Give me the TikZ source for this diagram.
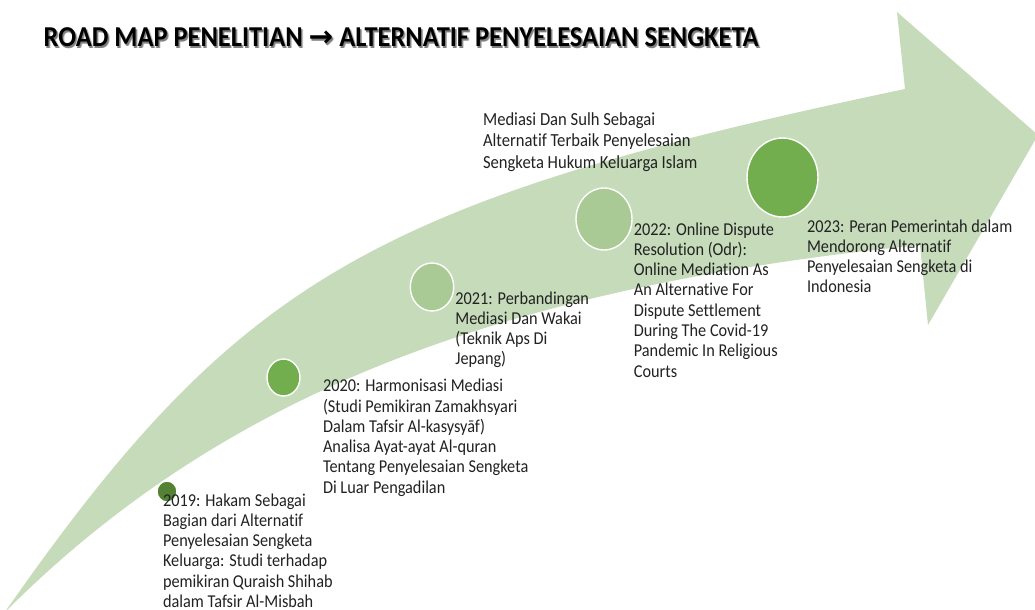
\documentclass[tikz,border=0pt]{standalone}
\usepackage{fontspec}
\setmainfont{Carlito}[FakeStretch=0.9, Ligatures=NoCommon]
\newfontfamily\arrowfont{DejaVu Sans}
\usepackage{graphicx}
\usetikzlibrary{shapes.geometric}
\definecolor{arrowfill}{HTML}{C5DBBA}
\definecolor{lightdot}{HTML}{A9CA95}
\definecolor{middot}{HTML}{72AE4D}
\definecolor{darkdot}{HTML}{548235}
\definecolor{txt}{HTML}{222222}
\newcommand\roadtitle{ROAD MAP PENELITIAN {\arrowfont\bfseries →} ALTERNATIF PENYELESAIAN SENGKETA}
\tikzset{
  lbl/.style={anchor=base west, inner sep=0pt, font=\fontsize{10.3}{11.55}\selectfont, text=txt},
  dot/.style={ellipse, draw=white, line width=0.8pt, inner sep=0pt},
  ttl/.style={anchor=base west, inner sep=0pt, font=\fontsize{16.4}{19}\selectfont\bfseries},
}
\begin{document}
\begin{tikzpicture}[x=0.02cm,y=-0.02cm]
\fill[white] (0,0) rectangle (1035,609);
\clip (0,0) rectangle (1035,609);
% big curved arrow
\fill[arrowfill] (5,612) .. controls (220,397) and (494,288) .. (920,245)
  -- (928,325) -- (1038,135) -- (897,12) -- (905,89)
  .. controls (372,201) and (237.5,279) .. (5,612) -- cycle;
% title with soft shadow
\node[ttl, text=black!25] (tshadow2) at (45.3,48.9) {\resizebox{14.3cm}{\height}{\roadtitle}};
\node[ttl, text=black!50] (tshadow) at (44.5,48) {\resizebox{14.3cm}{\height}{\roadtitle}};
\node[ttl, text=black] (title) at (43.3,46.7) {\resizebox{14.3cm}{\height}{\roadtitle}};
% milestones
\node[dot, fill=darkdot, minimum width=0.40cm, minimum height=0.42cm] (c2019) at (167,491.5) {};
\node[dot, fill=middot, minimum width=0.66cm, minimum height=0.74cm] (c2020) at (283.5,377.5) {};
\node[dot, fill=lightdot, minimum width=0.87cm, minimum height=0.96cm] (c2021) at (432,287) {};
\node[dot, fill=lightdot, minimum width=1.12cm, minimum height=1.24cm] (c2022) at (604,219) {};
\node[dot, fill=middot, minimum width=1.42cm, minimum height=1.58cm] (c2023) at (782.5,177.5) {};
% labels
\node[lbl] (t2019) at (162.7,506) {\begin{tabular}[t]{@{}l@{}}2019: Hakam Sebagai\\ Bagian dari Alternatif\\ Penyelesaian Sengketa\\ Keluarga: Studi terhadap\\ pemikiran Quraish Shihab\\ dalam Tafsir Al-Misbah\end{tabular}};
\node[lbl] (t2020) at (322.7,391.7) {\begin{tabular}[t]{@{}l@{}}2020: Harmonisasi Mediasi\\ (Studi Pemikiran Zamakhsyari\\ Dalam Tafsir Al-kasysyāf)\\ Analisa Ayat-ayat Al-quran\\ Tentang Penyelesaian Sengketa\\ Di Luar Pengadilan\end{tabular}};
\node[lbl] (t2021) at (455,304) {\begin{tabular}[t]{@{}l@{}}2021: Perbandingan\\ Mediasi Dan Wakai\\ (Teknik Aps Di\\ Jepang)\end{tabular}};
\node[lbl, font=\fontsize{10.5}{12.35}\selectfont] (tsulh) at (482.7,125) {\begin{tabular}[t]{@{}l@{}}Mediasi Dan Sulh Sebagai\\ Alternatif Terbaik Penyelesaian\\ Sengketa Hukum Keluarga Islam\end{tabular}};
\node[lbl] (t2022) at (633.5,235) {\begin{tabular}[t]{@{}l@{}}2022: Online Dispute\\ Resolution (Odr):\\ Online Mediation As\\ An Alternative For\\ Dispute Settlement\\ During The Covid-19\\ Pandemic In Religious\\ Courts\end{tabular}};
\node[lbl] (t2023) at (806.7,232) {\begin{tabular}[t]{@{}l@{}}2023: Peran Pemerintah dalam\\ Mendorong Alternatif\\ Penyelesaian Sengketa di\\ Indonesia\end{tabular}};
\end{tikzpicture}
\end{document}
